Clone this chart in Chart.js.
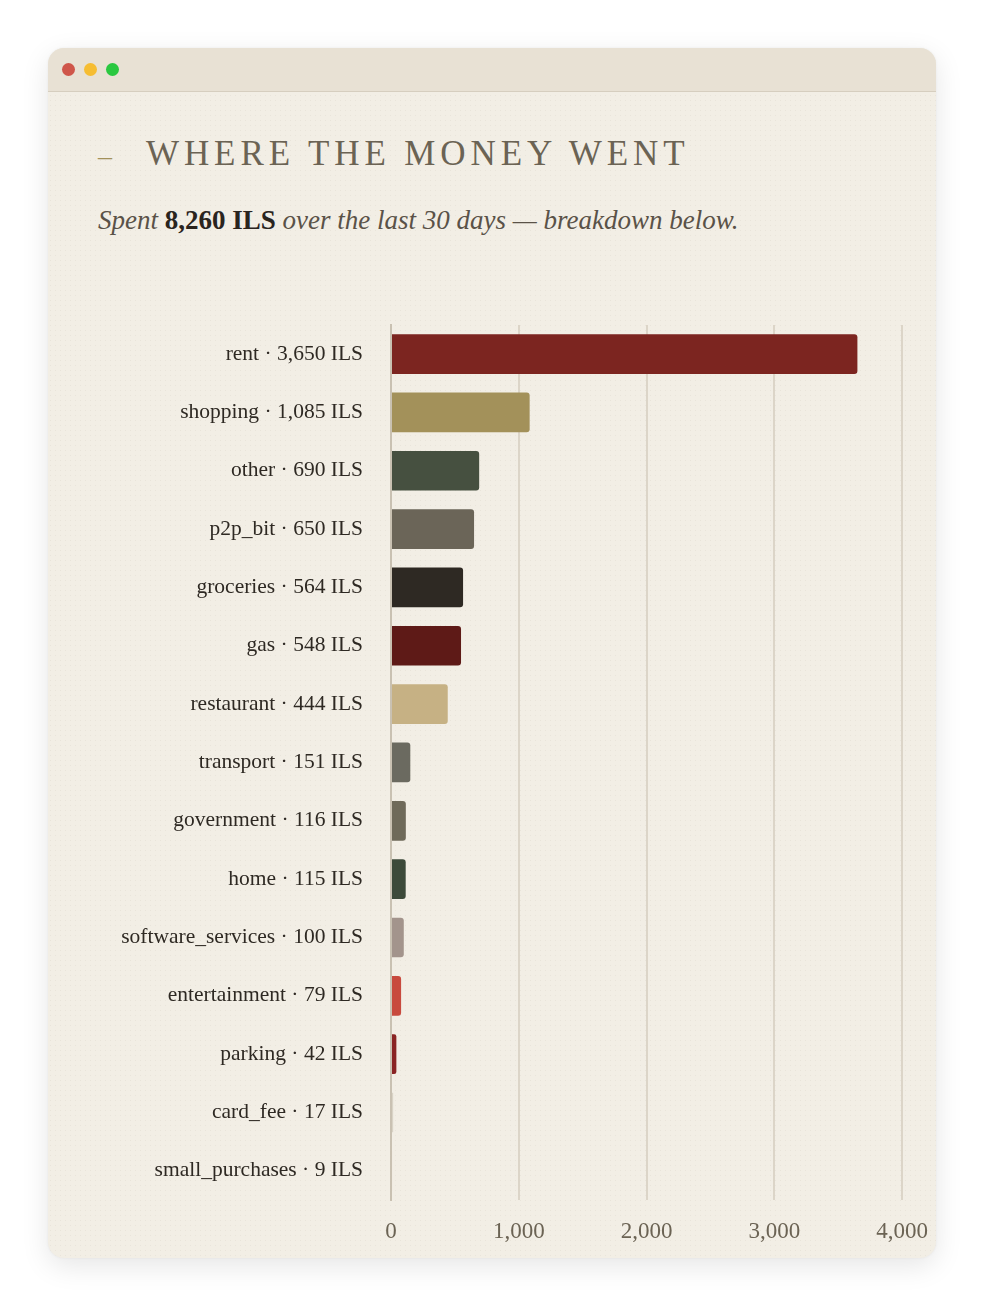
<!DOCTYPE html>
<html>
<head>
<meta charset="utf-8">
<script src="https://cdn.jsdelivr.net/npm/chart.js@4.4.1/dist/chart.umd.min.js"></script>
<style>
  html, body { margin:0; padding:0; background:#ffffff; }
  body { width:984px; height:1306px; position:relative; overflow:hidden; font-family:"Liberation Serif", "DejaVu Serif", serif; }
  .card { position:absolute; left:48px; top:48px; width:888px; height:1210px; border-radius:16px;
    background-color:#f2eee5;
    background-image: radial-gradient(rgba(120,100,70,0.07) 0.8px, transparent 1px);
    background-size:5px 5px;
    box-shadow: 0 8px 28px rgba(0,0,0,0.10), 0 0 3px rgba(0,0,0,0.05); overflow:hidden; }
  .bar { position:absolute; left:0; top:0; width:100%; height:43px; background:#e8e1d4; border-bottom:1.5px solid #d6cebf; }
  .dot { position:absolute; top:15px; width:13px; height:13px; border-radius:50%; }
  .title { position:absolute; left:50px; top:86px; font-size:35px; letter-spacing:4.9px; color:#6b6354; white-space:nowrap; }
  .title .dash { color:#a3915a; margin-right:34px; letter-spacing:0; font-size:28px; }
  .sub { position:absolute; left:50px; top:157px; font-size:27px; font-style:italic; color:#5a5248; white-space:nowrap; }
  .sub b { font-style:normal; color:#2a241e; }
  #wrap { position:absolute; left:98px; top:292px; width:848px; height:958px; }
</style>
</head>
<body>
<div class="card">
  <div class="bar">
    <div class="dot" style="left:14px;background:#cf564a"></div>
    <div class="dot" style="left:36px;background:#f6bd32"></div>
    <div class="dot" style="left:58px;background:#2ac840"></div>
  </div>
  <div class="title"><span class="dash">–</span>WHERE THE MONEY WENT</div>
  <div class="sub">Spent <b>8,260 ILS</b> over the last 30 days — breakdown below.</div>
</div>
<div id="wrap"><canvas id="c"></canvas></div>
<script>
const categories = ["rent","shopping","other","p2p_bit","groceries","gas","restaurant","transport","government","home","software_services","entertainment","parking","card_fee","small_purchases"];
const amounts = [3650,1085,690,650,564,548,444,151,116,115,100,79,42,17,9];
const barColors = ["#7c2520","#a3915a","#465040","#6b6558","#2e2923","#5e1a17","#c6b184","#6b6a60","#6f6a5a","#3d4a3a","#a3948c","#c84a3e","#8a2424","#d9d3c6","#e6e0d4"];
const xTicks = [0,1000,2000,3000,4000];

const labels = categories.map((c,i)=> c + " · " + amounts[i].toLocaleString("en-US") + " ILS");

new Chart(document.getElementById("c"), {
  type: "bar",
  data: {
    labels: labels,
    datasets: [{
      data: amounts,
      backgroundColor: barColors,
      borderRadius: 3,
      borderSkipped: "start",
      categoryPercentage: 0.8,
      barPercentage: 0.85
    }]
  },
  options: {
    indexAxis: "y",
    responsive: true,
    maintainAspectRatio: false,
    animation: false,
    layout: { padding: { top: 2 } },
    plugins: { legend: { display:false }, tooltip: { enabled:false } },
    scales: {
      x: {
        min: 0, max: 4000,
        afterBuildTicks: (s) => { s.ticks = xTicks.map(v=>({value:v})); },
        afterFit: (s) => { s.height = 50; },
        grid: { color: "#dcd5c8", lineWidth: 2, drawTicks: false },
        border: { display: false },
        ticks: { padding: 18, color: "#6b6354", font: { family: "Liberation Serif", size: 23 },
          callback: (v) => Number(v).toLocaleString("en-US") }
      },
      y: {
        afterFit: (s) => { s.width = 293; },
        grid: { display: false },
        border: { display: true, color: "#c9c1b2", width: 2 },
        ticks: { padding: 20, color: "#2e2923", font: { family: "Liberation Serif", size: 21.5 } }
      }
    }
  }
});
</script>
</body>
</html>
